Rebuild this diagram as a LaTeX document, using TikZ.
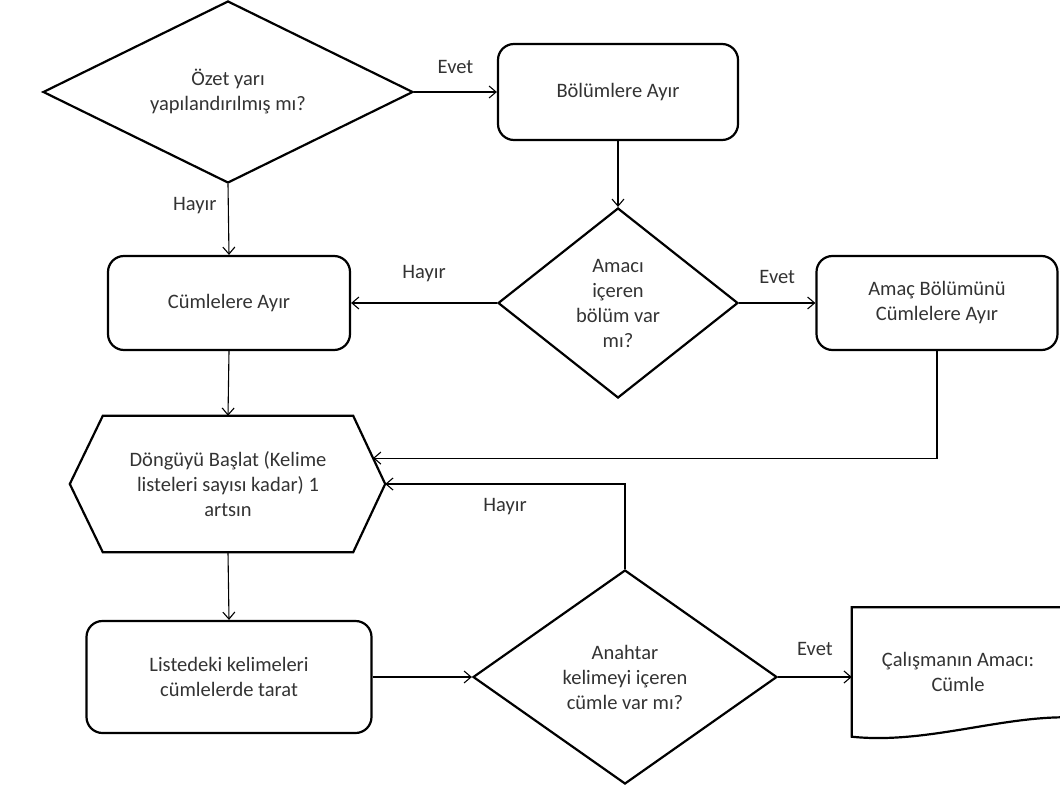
\documentclass[tikz,border=0pt]{standalone}
\usepackage{fontspec}
\setmainfont{Carlito}
\usetikzlibrary{arrows.meta,positioning,shapes.geometric,calc}

\begin{document}
\begin{tikzpicture}[
    x=1pt, y=-1pt,
    font=\fontsize{20.5}{25}\selectfont,
    box/.style={rectangle, draw, line width=2.2pt, rounded corners=16pt, align=center, text=black!80},
    decision/.style={diamond, draw, line width=2.2pt, inner sep=0pt, align=center, text=black!80},
    tag/.style={text=black!80},
    arrow/.style={-{Straight Barb[length=7pt, width=12pt]}, line width=1.1pt}
]
    \useasboundingbox (0,0) rectangle (1060,789);

    \node[decision, minimum width=370pt, minimum height=182pt, aspect=2] (summary) at (228,92) {Özet yarı\\yapılandırılmış mı?};
    \node[box, minimum width=240pt, minimum height=96pt] (split) at (618,92) {Bölümlere Ayır};
    \node[decision, minimum width=240pt, minimum height=190pt, aspect=1.26] (hasaim) at (618,303) {Amacı\\içeren\\bölüm var\\mı?};
    \node[box, minimum width=242pt, minimum height=94pt] (sentences) at (229,303) {Cümlelere Ayır};
    \node[box, minimum width=241pt, minimum height=94pt] (aimsent) at (937,303) {Amaç Bölümünü\\Cümlelere Ayır};

    % loop start (hexagon drawn round the node)
    \node[minimum width=250pt, minimum height=136pt, align=center, text=black!80] (loop) at (228,484) {Döngüyü Başlat (Kelime\\listeleri sayısı kadar) 1\\artsın};
    \coordinate (looptip) at ($(loop.east)+(32,0)$);
    \coordinate (looptail) at ($(loop.west)+(-33,0)$);
    \coordinate (loopin) at ($(loop.north east)!0.62!(looptip)$);
    \draw[line width=2.2pt] (loop.north west) -- (loop.north east) -- (looptip) -- (loop.south east) -- (loop.south west) -- (looptail) -- cycle;

    \node[box, minimum width=285pt, minimum height=112pt] (search) at (229,677) {Listedeki kelimeleri\\cümlelerde tarat};
    \node[decision, minimum width=304pt, minimum height=214pt, aspect=1.42] (keyword) at (625,677) {Anahtar\\kelimeyi içeren\\cümle var mı?};

    % result document
    \node[minimum width=212pt, minimum height=129pt, align=center, text=black!80] (result) at (958,672) {Çalışmanın Amacı:\\Cümle};
    \draw[line width=2.2pt] (1084,718) .. controls (1010,712) and (930,745) .. (result.south west) -- (result.north west) -- ($(result.north east)+(20,0)$);

    \draw[arrow] (summary.east) -- (split.west) node[tag, midway, above=14pt] (yes1) {Evet};
    \draw[arrow] (summary.south) -- (sentences.north) node[tag, pos=0.3, left=8pt] (no1) {Hayır};
    \draw[arrow] (split.south) -- (hasaim.north);
    \draw[arrow] (hasaim.west) -- (sentences.east) node[tag, midway, above=17pt] (no2) {Hayır};
    \draw[arrow] (hasaim.east) -- (aimsent.west) node[tag, midway, above=15pt] (yes2) {Evet};
    \draw[arrow] (aimsent.south) |- (loopin);
    \draw[arrow] (sentences.south) -- (loop.north);
    \draw[arrow] (loop.south) -- (search.north);
    \draw[arrow] (search.east) -- (keyword.west);
    \draw[arrow] (keyword.north) |- (looptip) node[tag, pos=0.75, below=10pt] (no3) {Hayır};
    \draw[arrow] (keyword.east) -- (keyword.east -| result.west) node[tag, midway, above=17pt] (yes3) {Evet};
\end{tikzpicture}
\end{document}
